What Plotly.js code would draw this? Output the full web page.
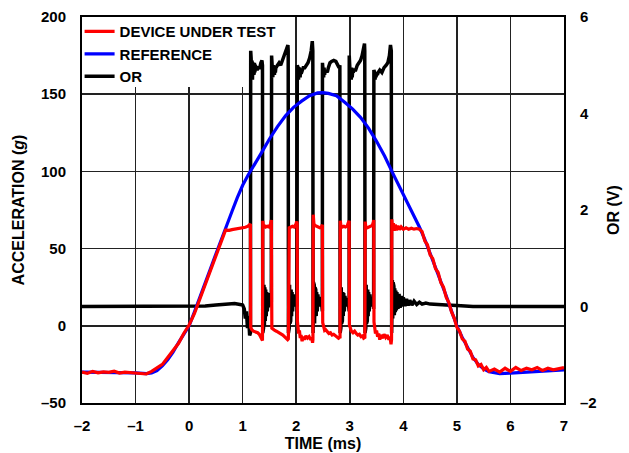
<!DOCTYPE html>
<html>
<head>
<meta charset="utf-8">
<script src="https://cdn.plot.ly/plotly-3.0.1.min.js"></script>
<style>
  html, body { margin: 0; padding: 0; background: #fff; }
  #chart { width: 629px; height: 453px; }
</style>
</head>
<body>
<div id="chart"></div>
<script>
// ---------- DATA ----------
const timeTicks = [-2, -1, 0, 1, 2, 3, 4, 5, 6, 7];
const timeTickText = ['\u20132', '\u20131', '0', '1', '2', '3', '4', '5', '6', '7'];
const accTicks = [-50, 0, 50, 100, 150, 200];
const accTickText = ['\u201350', '0', '50', '100', '150', '200'];
const orTicks = [-2, 0, 2, 4, 6];
const orTickText = ['\u20132', '0', '2', '4', '6'];
const orTickMarks = [0, 2, 4];

// REFERENCE accelerometer (g)
const refTime = [-2, -1.5, -1.0, -0.8, -0.7, -0.6, -0.5, -0.4, -0.3, -0.2, -0.1, 0, 0.1, 0.2, 0.3, 0.4, 0.5, 0.6, 0.7, 0.8, 0.9, 1.0, 1.1, 1.2, 1.35, 1.5, 1.65, 1.8, 1.95, 2.1, 2.25, 2.4, 2.5, 2.6, 2.75, 2.9, 3.05, 3.2, 3.35, 3.5, 3.65, 3.8, 3.9, 4.0, 4.1, 4.2, 4.3, 4.4, 4.5, 4.6, 4.7, 4.8, 4.9, 5.0, 5.1, 5.2, 5.3, 5.4, 5.5, 5.6, 5.7, 5.8, 6.0, 6.5, 7.0];
const refAcc = [-30, -30, -30.5, -31, -30.5, -29, -26, -22, -17, -11, -5.5, 0, 9, 18, 27.5, 37, 46.5, 56, 65, 74, 83, 91, 97.5, 103, 112, 121, 129, 136, 141.5, 145.5, 149, 150.8, 151, 150.5, 149, 145, 140.5, 135, 128, 119.5, 110, 99, 92, 85.5, 78.5, 71.5, 64, 56, 47, 38, 29, 19.5, 9.5, 0, -7.5, -14, -20.5, -25, -28, -29.8, -30.6, -31, -30.6, -29.5, -28.5];

// DEVICE UNDER TEST (g)
const dutTime = [-2, -1.9, -1.8, -1.7, -1.6, -1.5, -1.4, -1.3, -1.2, -1.1, -1.0, -0.9, -0.8, -0.7, -0.6, -0.5, -0.4, -0.3, -0.2, -0.1, 0, 0.1, 0.2, 0.3, 0.4, 0.5, 0.6, 0.68,
  0.7, 0.75, 0.8, 0.85, 0.9, 0.95, 1.0, 1.05, 1.1, 1.13, 1.145,
  1.15, 1.17, 1.2, 1.24, 1.28, 1.31, 1.34, 1.36, 1.37,
  1.375, 1.39, 1.41, 1.43, 1.46, 1.49, 1.52, 1.535,
  1.545, 1.57, 1.6, 1.63, 1.66, 1.69, 1.72, 1.75, 1.78, 1.81, 1.84, 1.853,
  1.857, 1.87, 1.9, 1.93, 1.96, 1.99, 2.01, 2.018,
  2.022, 2.03, 2.045, 2.06, 2.075, 2.09, 2.11, 2.13, 2.15, 2.18, 2.21, 2.24, 2.27, 2.29, 2.305, 2.312,
  2.318, 2.33, 2.35, 2.38, 2.41, 2.44, 2.47, 2.488,
  2.495, 2.51, 2.53, 2.55, 2.58, 2.61, 2.64, 2.67, 2.7, 2.73, 2.76, 2.79, 2.81, 2.818,
  2.822, 2.835, 2.86, 2.89, 2.92, 2.95, 2.975, 2.988,
  2.993, 3.01, 3.03, 3.06, 3.09, 3.12, 3.15, 3.18, 3.21, 3.24, 3.26, 3.282,
  3.287, 3.3, 3.33, 3.36, 3.39, 3.42, 3.44, 3.448,
  3.452, 3.465, 3.48, 3.5, 3.52, 3.54, 3.56, 3.58, 3.61, 3.64, 3.67, 3.7, 3.73, 3.75, 3.77, 3.78,
  3.785, 3.8, 3.815, 3.83, 3.85, 3.87, 3.9, 3.93, 3.96, 4.0, 4.05, 4.1, 4.15, 4.2, 4.25, 4.3, 4.35,
  4.4, 4.45, 4.5, 4.55, 4.6, 4.65, 4.7, 4.75, 4.8, 4.85, 4.9, 4.95, 5.0, 5.05, 5.1, 5.15, 5.2, 5.25, 5.3, 5.35, 5.4, 5.45, 5.5, 5.55, 5.6, 5.7, 5.8, 5.9, 6.0, 6.1, 6.2, 6.3, 6.4, 6.5, 6.6, 6.7, 6.8, 6.9, 7.0];
const dutAcc = [-30, -30.8, -29.5, -30.5, -29.8, -30.2, -29.4, -30.6, -30, -30.4, -30.8, -31, -31.2, -29.5, -27.5, -25, -20.5, -16, -11.5, -5, 0.5, 8, 17.5, 27, 36.5, 46, 55.5, 62,
  62, 61.8, 62.3, 62.5, 62.8, 63.2, 63.5, 63.8, 64.5, 65.5, 66,
  -1, -2.5, -3.5, -4, -4.5, -5.5, -7.5, -9, -9.5,
  68, 63.5, 65, 64, 64.5, 64, 66, 68.5,
  -1.5, -2.5, -3, -3.5, -4, -4.5, -5, -6, -7, -8, -9, -8.5,
  63, 63.5, 64, 64.5, 64, 65.5, 67.5, 66,
  3, -2, -5, -3, -8, -6, -10, -7, -9, -6.5, -8, -7, -9, -7.5, -11, -9,
  72, 66, 65, 64.5, 64, 63.5, 64, 65.5,
  2, -1.5, -3, -2.5, -4, -5, -4.5, -6, -5.5, -6.5, -7, -8, -7.5, -8,
  68, 65, 64, 64.5, 64, 64.5, 67, 68,
  0.5, -2, -3.5, -4.5, -3.5, -5, -6, -5.5, -7, -6.5, -8, -7.5,
  67.5, 64, 63.5, 64, 64.5, 65, 67, 68.5,
  2.5, -2, -5, -3, -7, -5, -9, -6, -8, -5.5, -7.5, -6, -9, -7, -12, -9,
  69, 62, 66.5, 61.5, 65.5, 62, 64.8, 62.3, 64, 62.5, 63.5, 62.5, 63.2, 62.6, 63, 62.5, 61,
  55, 52.5, 46, 43.5, 37, 34.5, 28, 25, 18.5, 15, 9, 5, -1, -3.5, -8.5, -10, -15, -16.5, -21.5, -22, -26, -25, -28.5, -27, -29.5, -28, -30, -27.5, -29.5, -27, -29, -27.5, -28.5, -27, -29, -27.5, -28.5, -27.5, -27];

// OR output (V)
const orTime = [-2, -1.5, -1, -0.5, 0, 0.3, 0.5, 0.7, 0.85, 0.95, 1.0, 1.03, 1.05, 1.07, 1.09, 1.11, 1.13, 1.145,
  1.15, 1.158, 1.166, 1.175, 1.183, 1.19, 1.198, 1.205, 1.213, 1.22, 1.228, 1.235, 1.25, 1.27, 1.29, 1.32, 1.34, 1.36, 1.37,
  1.375, 1.382, 1.39, 1.398, 1.406, 1.414, 1.422, 1.43, 1.44, 1.45, 1.46, 1.475, 1.49, 1.505, 1.52, 1.535,
  1.54, 1.548, 1.555, 1.563, 1.57, 1.578, 1.585, 1.593, 1.6, 1.61, 1.62, 1.65, 1.68, 1.71, 1.74, 1.77, 1.8, 1.83, 1.845, 1.85,
  1.855, 1.862, 1.869, 1.876, 1.883, 1.89, 1.897, 1.905, 1.913, 1.922, 1.932, 1.945, 1.96, 1.975, 1.99, 2.005, 2.015,
  2.02, 2.028, 2.035, 2.043, 2.05, 2.058, 2.065, 2.073, 2.08, 2.09, 2.1, 2.13, 2.16, 2.19, 2.22, 2.25, 2.28, 2.3, 2.31,
  2.315, 2.322, 2.329, 2.336, 2.343, 2.35, 2.357, 2.365, 2.373, 2.382, 2.392, 2.405, 2.42, 2.435, 2.45, 2.465, 2.48, 2.488,
  2.49, 2.497, 2.505, 2.512, 2.52, 2.53, 2.54, 2.55, 2.56, 2.58, 2.6, 2.63, 2.66, 2.7, 2.74, 2.77, 2.8, 2.815,
  2.82, 2.827, 2.834, 2.841, 2.848, 2.855, 2.862, 2.87, 2.878, 2.887, 2.897, 2.91, 2.925, 2.94, 2.955, 2.97, 2.98, 2.988,
  2.99, 2.997, 3.005, 3.012, 3.02, 3.028, 3.035, 3.045, 3.055, 3.065, 3.08, 3.11, 3.14, 3.17, 3.2, 3.23, 3.26, 3.275, 3.28,
  3.285, 3.292, 3.299, 3.306, 3.313, 3.32, 3.327, 3.335, 3.343, 3.352, 3.362, 3.375, 3.39, 3.405, 3.42, 3.435, 3.445,
  3.45, 3.457, 3.465, 3.472, 3.48, 3.49, 3.5, 3.515, 3.53, 3.56, 3.6, 3.64, 3.68, 3.71, 3.74, 3.76, 3.775,
  3.782, 3.788, 3.795, 3.802, 3.809, 3.816, 3.824, 3.832, 3.84, 3.85, 3.86, 3.87, 3.88, 3.9, 3.92, 3.94, 3.96, 3.98, 4.0, 4.03, 4.06, 4.09, 4.12, 4.16, 4.2, 4.25, 4.3, 4.35, 4.42, 4.5, 4.6, 4.8, 5.0, 5.3, 6.0, 7.0];
const orVolt = [0.0, 0.0, 0.0, 0.0, 0.01, 0.01, 0.03, 0.05, 0.06, 0.04, 0.03, -0.05, -0.25, -0.1, -0.45, -0.2, -0.6, -0.55,
  5.3, 5.15, 4.8, 5.1, 4.7, 5.05, 4.75, 5.0, 4.8, 5.05, 4.85, 5.0, 4.95, 4.9, 4.95, 4.95, 5.05, 5.1, 5.0,
  -0.55, 0.45, -0.45, 0.45, -0.4, 0.4, -0.3, 0.35, -0.2, 0.3, -0.1, 0.28, -0.02, 0.2, 0.02, 0.1,
  5.2, 4.85, 5.05, 4.75, 5.0, 4.8, 4.95, 4.8, 4.95, 4.85, 4.95, 5.0, 5.05, 5.0, 5.1, 5.15, 5.25, 5.35, 5.42, 5.3,
  -0.55, 0.45, -0.45, 0.45, -0.35, 0.4, -0.3, 0.35, -0.2, 0.3, -0.1, 0.25, 0.0, 0.2, 0.02, 0.12, 0.0,
  5.0, 4.75, 4.95, 4.7, 4.95, 4.75, 4.9, 4.75, 4.9, 4.85, 4.85, 4.95, 4.95, 5.0, 5.05, 5.15, 5.3, 5.5, 5.3,
  -0.55, 0.5, -0.45, 0.45, -0.35, 0.4, -0.3, 0.35, -0.2, 0.3, -0.1, 0.25, 0.0, 0.2, 0.02, 0.12, 0.0, -0.1,
  5.05, 4.8, 4.95, 4.75, 4.95, 4.8, 4.9, 4.85, 4.9, 4.85, 4.95, 5.05, 5.08, 5.1, 5.08, 5.0, 4.95, 5.0,
  -0.55, 0.45, -0.45, 0.4, -0.35, 0.35, -0.3, 0.3, -0.2, 0.28, -0.1, 0.22, 0.0, 0.18, 0.02, 0.12, 0.02, -0.1,
  5.2, 4.85, 5.05, 4.7, 4.95, 4.7, 4.95, 4.75, 4.9, 4.85, 4.9, 4.9, 5.0, 5.05, 5.1, 5.2, 5.35, 5.45, 5.3,
  -0.55, 0.5, -0.45, 0.45, -0.35, 0.4, -0.3, 0.35, -0.2, 0.3, -0.1, 0.25, 0.0, 0.2, 0.02, 0.12, -0.05,
  4.9, 4.7, 4.85, 4.7, 4.85, 4.75, 4.85, 4.8, 4.85, 4.9, 4.85, 4.95, 5.0, 5.05, 5.2, 5.42, 5.3,
  -0.55, 0.3, 0.55, -0.25, 0.5, -0.2, 0.42, -0.18, 0.38, -0.12, 0.33, -0.08, 0.3, -0.05, 0.26, -0.03, 0.22, 0.0, 0.19, 0.01, 0.16, 0.02, 0.13, 0.03, 0.11, 0.04, 0.09, 0.05, 0.07, 0.05, 0.04, 0.03, 0.02, 0.0, 0.0, 0.0];

// ---------- CHART ----------
const FONT = 'Liberation Sans, Arial, Helvetica, sans-serif';

const traces = [
  { name: 'OR', x: orTime, y: orVolt, yaxis: 'y', type: 'scatter', mode: 'lines',
    line: { color: '#000000', width: 3.5 } },
  { name: 'REFERENCE', x: refTime, y: refAcc, yaxis: 'y2', type: 'scatter', mode: 'lines',
    line: { color: '#0000ff', width: 3.2 } },
  { name: 'DEVICE UNDER TEST', x: dutTime, y: dutAcc, yaxis: 'y2', type: 'scatter', mode: 'lines',
    line: { color: '#ff0000', width: 3.2 } }
];

const layout = {
  width: 629, height: 453,
  margin: { l: 82, r: 65, t: 17, b: 50 },
  paper_bgcolor: '#ffffff', plot_bgcolor: '#ffffff',
  font: { family: FONT, size: 15, color: '#000', weight: 'bold' },
  showlegend: true,
  legend: {
    x: -0.005, y: 1.005, xanchor: 'left', yanchor: 'top',
    bgcolor: 'rgba(255,255,255,0)', borderwidth: 0, traceorder: 'reversed',
    font: { family: FONT, size: 15, color: '#000', weight: 'bold' }
  },
  // white patch that masks the grid behind the legend (drawn between grid and data)
  shapes: [
    { type: 'rect', xref: 'x', yref: 'y', x0: -2, x1: 1.12, y0: 4.55, y1: 6,
      layer: 'between', fillcolor: '#ffffff', line: { width: 0 } }
  ],
  xaxis: {
    range: [-2, 7], tickvals: timeTicks, ticktext: timeTickText,
    showgrid: true, gridcolor: '#222', gridwidth: 1.5, zeroline: false,
    showline: true, mirror: true, linecolor: '#000', linewidth: 2,
    ticks: 'outside', ticklen: 8, tickcolor: 'rgba(0,0,0,0)',
    tickfont: { family: FONT, size: 15, weight: 'bold' },
    title: { text: 'TIME (ms)', standoff: 5, font: { family: FONT, size: 16, weight: 'bold' } }
  },
  yaxis: {
    side: 'right', range: [-2, 6], tickvals: orTicks, ticktext: orTickText,
    showgrid: false, zeroline: false,
    showline: true, linecolor: '#000', linewidth: 2,
    ticks: 'outside', ticklen: 11, tickcolor: 'rgba(0,0,0,0)',
    tickfont: { family: FONT, size: 15, weight: 'bold' },
    title: { text: 'OR (V)', standoff: 12, font: { family: FONT, size: 16, weight: 'bold' } }
  },
  yaxis2: {
    overlaying: 'y', side: 'left', range: [-50, 200], tickvals: accTicks, ticktext: accTickText,
    showgrid: true, gridcolor: '#222', gridwidth: 1.5, zeroline: false,
    showline: true, mirror: false, linecolor: '#000', linewidth: 2,
    ticks: 'outside', ticklen: 11, tickcolor: 'rgba(0,0,0,0)',
    tickfont: { family: FONT, size: 15, weight: 'bold' },
    title: { text: 'ACCELERATION (<i>g</i>)', standoff: 12, font: { family: FONT, size: 16, weight: 'bold' } }
  },
  yaxis3: {
    overlaying: 'y', side: 'right', range: [-2, 6], tickvals: orTickMarks,
    showticklabels: false, showgrid: false, zeroline: false, showline: false,
    ticks: 'outside', ticklen: 5, tickwidth: 1.5, tickcolor: '#000'
  },
  yaxis4: {
    overlaying: 'y', side: 'right', range: [-2, 6], tickvals: orTickMarks,
    showticklabels: false, showgrid: false, zeroline: false, showline: false,
    ticks: 'inside', ticklen: 5, tickwidth: 1.5, tickcolor: '#000'
  }
};

Plotly.newPlot('chart', traces, layout, { staticPlot: true, displayModeBar: false });
</script>
</body>
</html>
